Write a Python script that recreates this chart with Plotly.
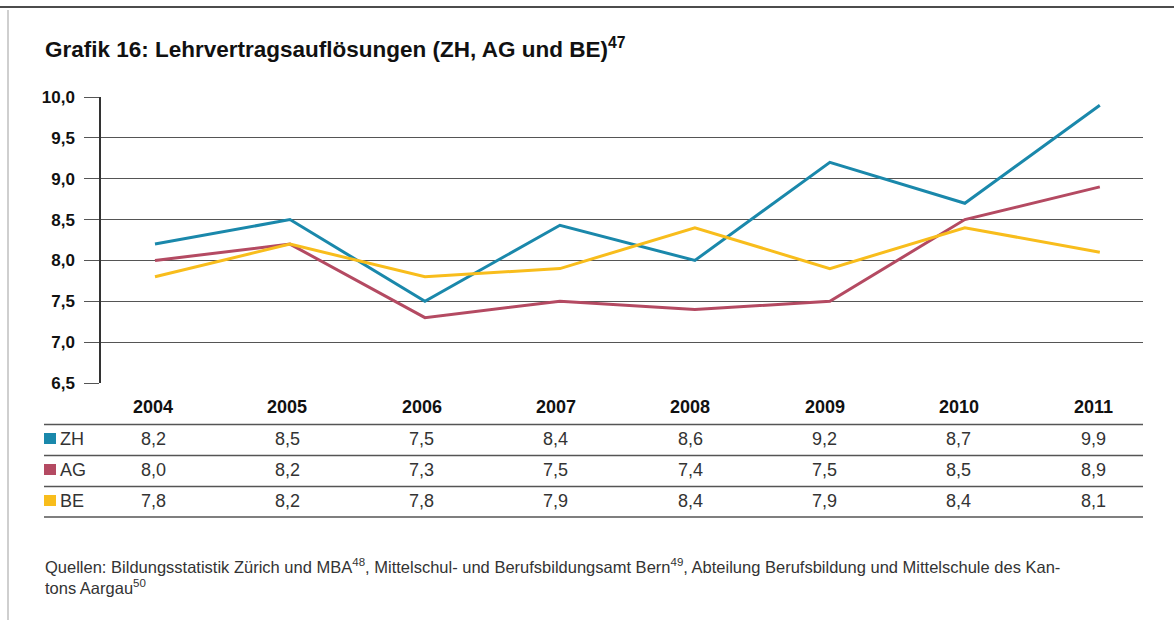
import plotly.graph_objects as go

# ---------------- data ----------------
years = ["2004", "2005", "2006", "2007", "2008", "2009", "2010", "2011"]
series_names = ["ZH", "AG", "BE"]
# values as drawn by the lines
zh_line = [8.2, 8.5, 7.5, 8.43, 8.0, 9.2, 8.7, 9.9]
ag_line = [8.0, 8.2, 7.3, 7.5, 7.4, 7.5, 8.5, 8.9]
be_line = [7.8, 8.2, 7.8, 7.9, 8.4, 7.9, 8.4, 8.1]
# values as printed in the table
zh_table = [8.2, 8.5, 7.5, 8.4, 8.6, 9.2, 8.7, 9.9]
ag_table = [8.0, 8.2, 7.3, 7.5, 7.4, 7.5, 8.5, 8.9]
be_table = [7.8, 8.2, 7.8, 7.9, 8.4, 7.9, 8.4, 8.1]
y_ticks = [6.5, 7.0, 7.5, 8.0, 8.5, 9.0, 9.5, 10.0]

colors = ["#1a88ab", "#b44a62", "#f8bd1c"]
title = "Grafik 16: Lehrvertragsauflösungen (ZH, AG und BE)<sup>47</sup>"
source = ("Quellen: Bildungsstatistik Zürich und MBA<sup>48</sup>, Mittelschul- und "
          "Berufsbildungsamt Bern<sup>49</sup>, Abteilung Berufsbildung und Mittelschule des Kan-"
          "<br>tons Aargau<sup>50</sup>")

# ---------------- layout helpers ----------------
OFF = 0                      # body margin removed via post_script
W, H = 1174 - 2 * OFF, 620 - 2 * OFF
# plot area in screen pixels
SL, SR, ST, SB = 101, 1143, 97, 383
L, R, T, B = SL - OFF, SR - OFF, ST - OFF, SB - OFF
FONT = "Liberation Sans, Arial, Helvetica, sans-serif"


def px(x):
    """screen x pixel -> paper"""
    return (x - OFF - L) / (R - L)


def py(y):
    """screen y pixel -> paper"""
    return (B - (y - OFF)) / (B - T)


xs = list(range(len(years)))
fig = go.Figure()
for name, vals, col in zip(series_names, [zh_line, ag_line, be_line], colors):
    fig.add_trace(go.Scatter(x=xs, y=vals, mode="lines", name=name,
                             line=dict(color=col, width=3), showlegend=False,
                             hoverinfo="skip"))

annotations = []
shapes = []

# title
annotations.append(dict(x=px(43), y=py(48), xref="paper", yref="paper",
                        xanchor="left", yanchor="middle", showarrow=False,
                        text="<b>" + title + "</b>",
                        font=dict(family=FONT, size=22.5, color="#111")))

# table columns (slightly narrower spacing than the plot points)
col_px = [153 + 134.3 * i for i in xs]
row_y = {"hdr": 407, "ZH": 439, "AG": 470, "BE": 501}
for cx, yr in zip(col_px, years):
    annotations.append(dict(x=px(cx), y=py(row_y["hdr"]), xref="paper", yref="paper",
                            xanchor="center", yanchor="middle", showarrow=False,
                            text="<b>" + yr + "</b>",
                            font=dict(family=FONT, size=18, color="#111")))

for name, vals, col in zip(series_names, [zh_table, ag_table, be_table], colors):
    yy = row_y[name]
    shapes.append(dict(type="rect", xref="paper", yref="paper",
                       x0=px(44), x1=px(56), y0=py(yy - 6), y1=py(yy + 5),
                       fillcolor=col, line=dict(width=0)))
    annotations.append(dict(x=px(58), y=py(yy), xref="paper", yref="paper",
                            xanchor="left", yanchor="middle", showarrow=False,
                            text=name, font=dict(family=FONT, size=18, color="#333")))
    for cx, v in zip(col_px, vals):
        annotations.append(dict(x=px(cx), y=py(yy), xref="paper", yref="paper",
                                xanchor="center", yanchor="middle", showarrow=False,
                                text=f"{v:.1f}".replace(".", ","),
                                font=dict(family=FONT, size=18, color="#333")))

for ly in [424.5, 455.5, 486.5, 517]:
    shapes.append(dict(type="line", xref="paper", yref="paper",
                       x0=px(44), x1=px(1143), y0=py(ly), y1=py(ly),
                       line=dict(color="#555", width=1.5)))

# source text
annotations.append(dict(x=px(43), y=py(554), xref="paper", yref="paper",
                        xanchor="left", yanchor="top", showarrow=False, align="left",
                        text=source, font=dict(family=FONT, size=16.5, color="#333")))

# page borders
shapes.append(dict(type="line", xref="paper", yref="paper",
                   x0=px(0), x1=px(1174), y0=py(7), y1=py(7),
                   line=dict(color="#111", width=1.5)))
shapes.append(dict(type="line", xref="paper", yref="paper",
                   x0=px(8), x1=px(8), y0=py(10), y1=py(620),
                   line=dict(color="#cfcfcf", width=2)))

fig.update_layout(
    width=W, height=H,
    margin=dict(l=L, r=W - R, t=T, b=H - B, pad=0),
    paper_bgcolor="white", plot_bgcolor="white",
    separators=",.",
    annotations=annotations, shapes=shapes,
    xaxis=dict(range=[-0.4, 7.32], showticklabels=False, showgrid=False,
               zeroline=False, showline=False, ticks=""),
    yaxis=dict(range=[6.5, 10.0], tickvals=y_ticks, tickformat=".1f",
               showgrid=True, gridcolor="#555", gridwidth=1,
               zeroline=False, showline=True, linecolor="#333", linewidth=1.5,
               ticks="outside", ticklen=15, tickcolor="#555", tickwidth=1,
               ticklabelstandoff=6,
               tickfont=dict(family=FONT, size=17, color="#111", weight="bold")),
)

fig.write_html("out.html",
               config={"displayModeBar": False},
               post_script="document.body.style.margin='0';document.body.style.overflow='hidden';")
